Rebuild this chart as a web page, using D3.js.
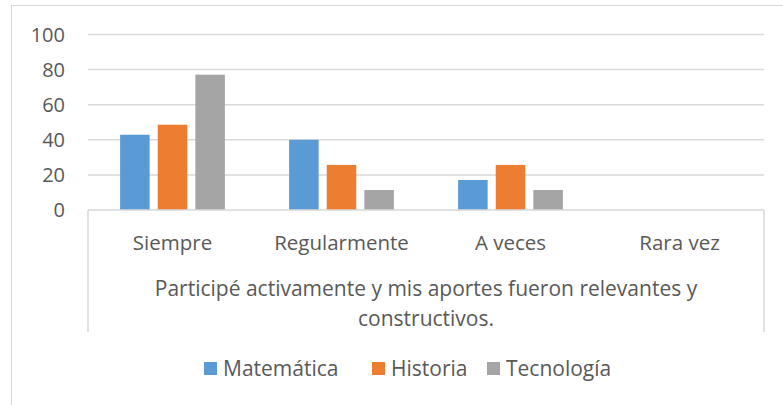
<!DOCTYPE html>
<html>
<head>
<meta charset="utf-8">
<script src="https://cdn.jsdelivr.net/npm/d3@7"></script>
<style>
  body { margin: 0; background: #fff; }
  text { font-family: "Open Sans", sans-serif; fill: #595959; }
</style>
</head>
<body>
<svg id="chart" width="783" height="405"></svg>
<script>
// categories and series (percent of 35 answers)
var categories = ["Siempre", "Regularmente", "A veces", "Rara vez"];
var seriesNames = ["Matemática", "Historia", "Tecnología"];
var matematica = [42.9, 40.0, 17.1, 0];
var historia = [48.6, 25.7, 25.7, 0];
var tecnologia = [77.1, 11.4, 11.4, 0];
var yTicks = [0, 20, 40, 60, 80, 100];
var axisTitle = ["Participé activamente y mis aportes fueron relevantes y", "constructivos."];
var colors = ["#5b9bd5", "#ed7d31", "#a5a5a5"];

var seriesValues = [matematica, historia, tecnologia];

var svg = d3.select("#chart");

// chart area border
svg.append("rect")
    .attr("x", 11.5).attr("y", 5.5)
    .attr("width", 800).attr("height", 450)
    .attr("fill", "none")
    .attr("stroke", "#d9d9d9");

var plotLeft = 88, plotRight = 764, plotTop = 34.5, plotBottom = 210;

var y = d3.scaleLinear().domain([0, 100]).range([plotBottom, plotTop]);

var x0 = d3.scaleBand()
    .domain(categories)
    .range([plotLeft, plotRight])
    .paddingInner(0.38)
    .paddingOuter(0.19);

var x1 = d3.scaleBand()
    .domain(seriesNames)
    .range([0, x0.bandwidth()])
    .paddingInner(0.215);

// gridlines
svg.append("g").selectAll("line")
    .data(yTicks.filter(function (d) { return d > 0; }))
    .enter().append("line")
    .attr("x1", plotLeft).attr("x2", plotRight)
    .attr("y1", function (d) { return y(d); })
    .attr("y2", function (d) { return y(d); })
    .attr("stroke", "#d9d9d9")
    .attr("stroke-width", 1.5);

// y tick labels
svg.append("g").selectAll("text")
    .data(yTicks)
    .enter().append("text")
    .attr("x", 65)
    .attr("y", function (d) { return y(d); })
    .attr("dy", "0.35em")
    .attr("text-anchor", "end")
    .style("font-size", "20px")
    .text(function (d) { return d; });

// bars
var groups = svg.append("g").selectAll("g")
    .data(categories)
    .enter().append("g")
    .attr("transform", function (d) { return "translate(" + x0(d) + ",0)"; });

groups.selectAll("rect")
    .data(function (d, i) {
        return seriesNames.map(function (s, j) {
            return { series: s, value: seriesValues[j][i], color: colors[j] };
        });
    })
    .enter().append("rect")
    .attr("x", function (d) { return x1(d.series); })
    .attr("y", function (d) { return y(d.value); })
    .attr("width", x1.bandwidth())
    .attr("height", function (d) { return plotBottom - y(d.value); })
    .attr("fill", function (d) { return d.color; });

// category axis box
var axisBox = svg.append("g")
    .attr("fill", "none")
    .attr("stroke", "#d9d9d9")
    .attr("stroke-width", 1.5);
axisBox.append("line").attr("x1", plotLeft).attr("x2", plotRight).attr("y1", plotBottom).attr("y2", plotBottom);
axisBox.append("line").attr("x1", plotLeft).attr("x2", plotLeft).attr("y1", plotBottom).attr("y2", 332);
axisBox.append("line").attr("x1", plotRight).attr("x2", plotRight).attr("y1", plotBottom).attr("y2", 332);

// category labels
svg.append("g").selectAll("text")
    .data(categories)
    .enter().append("text")
    .attr("x", function (d) { return x0(d) + x0.bandwidth() / 2; })
    .attr("y", 243)
    .attr("dy", "0.35em")
    .attr("text-anchor", "middle")
    .style("font-size", "20.5px")
    .text(function (d) { return d; });

// axis title (two lines)
svg.append("g").selectAll("text")
    .data(axisTitle)
    .enter().append("text")
    .attr("x", (plotLeft + plotRight) / 2)
    .attr("y", function (d, i) { return 289 + i * 30; })
    .attr("dy", "0.35em")
    .attr("text-anchor", "middle")
    .style("font-size", "21px")
    .text(function (d) { return d; });

// legend
var legendX = [204, 372, 487];
var legend = svg.append("g").selectAll("g")
    .data(seriesNames)
    .enter().append("g")
    .attr("transform", function (d, i) { return "translate(" + legendX[i] + ",362)"; });
legend.append("rect")
    .attr("width", 13).attr("height", 13)
    .attr("fill", function (d, i) { return colors[i]; });
legend.append("text")
    .attr("x", 19).attr("y", 7)
    .attr("dy", "0.35em")
    .style("font-size", "21px")
    .text(function (d) { return d; });
</script>
</body>
</html>
